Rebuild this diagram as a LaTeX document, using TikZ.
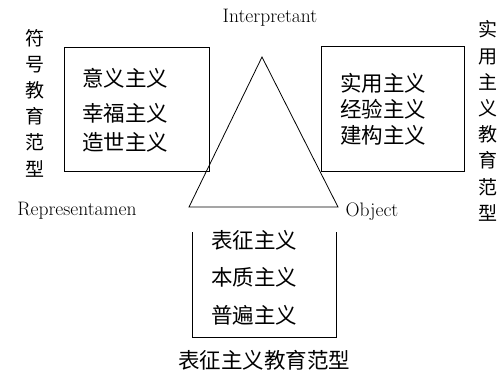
\documentclass[tikz,border=0pt]{standalone}
\usepackage{fontspec}
\newfontfamily\cjk{Noto Sans CJK SC}
\begin{document}
\begin{tikzpicture}[x=1pt,y=-1pt,
  boxline/.style={draw=black,line width=0.8pt},
  zh/.style={font=\cjk\fontsize{21.5}{24}\selectfont,inner sep=0pt,anchor=center},
  vzh/.style={font=\cjk\fontsize{19}{26.2}\selectfont,inner sep=0pt,align=center,anchor=center},
  en/.style={font=\fontsize{19.5}{21}\selectfont,inner sep=0pt}]
\useasboundingbox (0,0) rectangle (502,370);
% boxes
\draw[boxline] (64,47) rectangle (209,171);
\draw[boxline] (321,46) rectangle (464,171);
\draw[boxline] (192,232) -- (192,337) -- (336,337) -- (336,232);
% triangle
\coordinate (top) at (262,57);
\coordinate (bl) at (189,207);
\coordinate (br) at (338,207);
\draw[line width=0.8pt] (top) -- (bl) -- (br) -- cycle;
% labels
\node[en] (interp) at (270,18) {Interpretant};
\node[en] (rep) at (77,211) {Representamen};
\node[en] (obj) at (372,212) {Object};
% left box
\node[zh] (l1) at (125,78) {意义主义};
\node[zh] (l2) at (125,113) {幸福主义};
\node[zh] (l3) at (125,142) {造世主义};
% right box
\node[zh] (r1) at (383,83) {实用主义};
\node[zh] (r2) at (383,109) {经验主义};
\node[zh] (r3) at (383,135) {建构主义};
% bottom box
\node[zh] (b1) at (254,240) {表征主义};
\node[zh] (b2) at (254,277) {本质主义};
\node[zh] (b3) at (254,315) {普遍主义};
\node[zh] (blab) at (264,360) {表征主义教育范型};
% vertical labels
\node[vzh] (vl) at (35,103) {符\\号\\教\\育\\范\\型};
\node[vzh] (vr) at (488,121) {实\\用\\主\\义\\教\\育\\范\\型};
\end{tikzpicture}
\end{document}
